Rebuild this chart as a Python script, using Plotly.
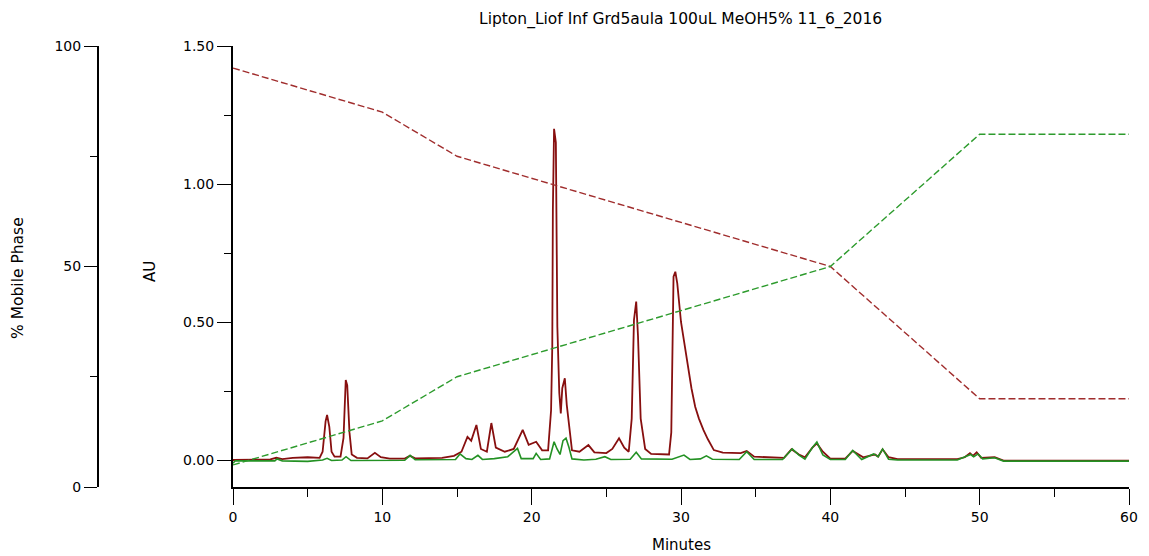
import plotly.graph_objects as go

# ---- Chromatogram: channel 1 (maroon), retention time in minutes vs AU ----
ch1_time = [0.0, 1.0, 2.5, 2.9, 3.3, 4.0, 5.0, 5.8, 6.0, 6.2, 6.3, 6.45, 6.6, 6.8, 7.2, 7.4,
            7.55, 7.65, 7.8, 7.95, 8.3, 9.0, 9.5, 9.9, 10.5, 11.5, 11.85, 12.2, 13.0, 14.0,
            14.8, 15.3, 15.7, 15.95, 16.3, 16.6, 17.0, 17.3, 17.6, 18.2, 18.8, 19.4, 19.8,
            20.3, 20.7, 21.1, 21.3, 21.38, 21.42, 21.5, 21.62, 21.72, 21.85, 21.95, 22.05,
            22.22, 22.35, 22.46, 22.7, 23.2, 23.8, 24.2, 25.0, 25.4, 25.85, 26.2, 26.5, 26.7,
            26.85, 27.0, 27.12, 27.3, 27.6, 28.0, 29.2, 29.35, 29.5, 29.62, 29.75, 30.0, 30.2,
            30.45, 30.7, 30.95, 31.2, 31.5, 31.8, 32.2, 32.8, 34.0, 34.4, 34.9, 36.0, 36.9,
            37.4, 37.9, 38.3, 38.8, 39.1, 39.5, 40.0, 41.0, 41.5, 42.2, 42.8, 43.0, 43.2,
            43.5, 43.9, 44.5, 48.5, 49.0, 49.35, 49.55, 49.8, 50.1, 51.0, 51.6, 60.0]
ch1_au = [0.000, 0.000, 0.002, 0.008, 0.003, 0.008, 0.010, 0.008, 0.030, 0.140, 0.163, 0.120,
          0.030, 0.012, 0.012, 0.080, 0.290, 0.270, 0.100, 0.020, 0.008, 0.006, 0.026, 0.010,
          0.005, 0.005, 0.015, 0.006, 0.008, 0.008, 0.015, 0.030, 0.084, 0.070, 0.127, 0.040,
          0.030, 0.134, 0.045, 0.030, 0.040, 0.109, 0.055, 0.066, 0.035, 0.035, 0.180, 0.410,
          0.906, 1.200, 1.150, 0.483, 0.243, 0.169, 0.260, 0.296, 0.200, 0.145, 0.035, 0.030,
          0.054, 0.028, 0.025, 0.040, 0.079, 0.045, 0.030, 0.150, 0.507, 0.574, 0.450, 0.150,
          0.040, 0.022, 0.020, 0.100, 0.664, 0.682, 0.640, 0.500, 0.430, 0.330, 0.260, 0.193,
          0.150, 0.109, 0.075, 0.036, 0.027, 0.025, 0.033, 0.012, 0.010, 0.008, 0.039, 0.020,
          0.010, 0.045, 0.060, 0.030, 0.005, 0.005, 0.033, 0.010, 0.018, 0.020, 0.012, 0.039,
          0.010, 0.003, 0.003, 0.010, 0.025, 0.015, 0.028, 0.008, 0.010, -0.002, -0.002]

# ---- Chromatogram: channel 2 (green) ----
ch2_time = [0.0, 0.15, 2.8, 2.95, 3.3, 5.0, 6.0, 6.3, 6.6, 7.3, 7.57, 7.9, 11.5, 11.86, 12.2,
            14.9, 15.2, 15.6, 16.0, 16.4, 16.7, 17.5, 18.4, 19.05, 19.3, 20.1, 20.3, 20.6,
            21.2, 21.5, 21.7, 21.9, 22.1, 22.3, 22.5, 22.7, 23.5, 24.3, 24.9, 25.3, 26.6,
            27.0, 27.35, 29.4, 30.2, 30.6, 31.3, 31.7, 32.1, 33.9, 34.4, 34.9, 36.8, 37.45,
            37.9, 38.3, 38.8, 39.1, 39.5, 40.0, 41.0, 41.5, 42.1, 42.9, 43.2, 43.5, 43.9,
            44.5, 48.5, 49.0, 49.4, 49.6, 49.9, 50.2, 51.0, 51.6, 60.0]
ch2_au = [-0.012, -0.003, -0.003, 0.004, -0.003, -0.005, 0.000, 0.006, -0.002, 0.000, 0.012,
          -0.002, -0.001, 0.017, 0.001, 0.002, 0.022, 0.005, 0.002, 0.017, 0.002, 0.005,
          0.012, 0.042, 0.005, 0.005, 0.024, 0.002, 0.004, 0.066, 0.040, 0.020, 0.070, 0.079,
          0.045, 0.004, 0.000, 0.003, 0.012, 0.002, 0.003, 0.028, 0.004, 0.003, 0.018, 0.002,
          0.004, 0.015, 0.003, 0.002, 0.030, 0.002, 0.002, 0.040, 0.018, 0.003, 0.045, 0.065,
          0.018, 0.002, 0.002, 0.035, 0.002, 0.022, 0.012, 0.040, 0.003, 0.000, 0.000, 0.010,
          0.020, 0.012, 0.022, 0.004, 0.008, -0.004, -0.004]

# ---- Gradient program (% mobile phase) ----
grad_time = [0, 10, 15, 40, 50, 60]
grad_a = [95, 85, 75, 50, 20, 20]
grad_b = [5, 15, 25, 50, 80, 80]

au_ticks = [0.0, 0.5, 1.0, 1.5]
au_labels = ["0.00", "0.50", "1.00", "1.50"]
pct_ticks = [0, 50, 100]
min_ticks = [0, 10, 20, 30, 40, 50, 60]

TITLE = "Lipton_Liof Inf Grd5aula 100uL MeOH5% 11_6_2016"

W, H = 1149, 556
PX_LEFT, PX_RIGHT, PX_TOP, PX_BOTTOM = 233, 1129, 46, 487
FONT = "DejaVu Sans"

fig = go.Figure()

fig.add_trace(go.Scatter(x=grad_time, y=grad_a, yaxis="y2", mode="lines",
                         line=dict(color="rgb(160,45,45)", width=1.4, dash="7px,3px"),
                         hoverinfo="skip"))
fig.add_trace(go.Scatter(x=grad_time, y=grad_b, yaxis="y2", mode="lines",
                         line=dict(color="rgb(45,155,45)", width=1.4, dash="7px,3px"),
                         hoverinfo="skip"))
fig.add_trace(go.Scatter(x=ch1_time, y=ch1_au, mode="lines",
                         line=dict(color="rgb(135,15,15)", width=1.8)))
fig.add_trace(go.Scatter(x=ch2_time, y=ch2_au, mode="lines",
                         line=dict(color="rgb(35,145,35)", width=1.6)))

tickfont = dict(family=FONT, size=14, color="black")

fig.update_layout(
    template="none",
    width=W, height=H, autosize=False,
    margin=dict(l=0, r=0, t=0, b=0, pad=0),
    paper_bgcolor="white", plot_bgcolor="white",
    showlegend=False,
    xaxis=dict(domain=[PX_LEFT / W, PX_RIGHT / W], range=[0, 60], automargin=False,
               tickmode="array", tickvals=min_ticks, ticks="outside", ticklen=16,
               tickwidth=1, tickcolor="black", showline=True, linewidth=2,
               linecolor="black", showgrid=False, zeroline=False, tickfont=tickfont,
               minor=dict(dtick=5, tick0=0, ticks="outside", ticklen=8, tickwidth=1,
                          tickcolor="black", showgrid=False)),
    yaxis=dict(domain=[1 - PX_BOTTOM / H, 1 - PX_TOP / H], range=[-0.0978, 1.5],
               anchor="x", side="left", automargin=False,
               tickmode="array", tickvals=au_ticks, ticktext=au_labels,
               ticks="outside", ticklen=14, tickwidth=1, tickcolor="black",
               showline=True, linewidth=2, linecolor="black", showgrid=False,
               zeroline=False, tickfont=tickfont,
               minor=dict(tickvals=[0.25, 0.75, 1.25], ticks="outside", ticklen=7,
                          tickwidth=1, tickcolor="black", showgrid=False)),
    yaxis2=dict(overlaying="y", anchor="free", position=98 / W, side="left",
                automargin=False,
                range=[0, 100], tickmode="array", tickvals=pct_ticks,
                ticks="outside", ticklen=13, tickwidth=1, tickcolor="black",
                showline=True, linewidth=2, linecolor="black", showgrid=False,
                zeroline=False, tickfont=tickfont,
                minor=dict(tickvals=[25, 75], ticks="outside", ticklen=7, tickwidth=1,
                           tickcolor="black", showgrid=False)),
    annotations=[
        dict(text=TITLE, x=680 / W, y=1 - 19 / H, xref="paper", yref="paper",
             xanchor="center", yanchor="middle", showarrow=False,
             font=dict(family=FONT, size=15.5, color="black")),
        dict(text="Minutes", x=681 / W, y=1 - 545 / H, xref="paper", yref="paper",
             xanchor="center", yanchor="middle", showarrow=False,
             font=dict(family=FONT, size=15, color="black")),
        dict(text="AU", x=150 / W, y=1 - 272 / H, xref="paper", yref="paper",
             xanchor="center", yanchor="middle", showarrow=False, textangle=-90,
             font=dict(family=FONT, size=15, color="black")),
        dict(text="% Mobile Phase", x=18 / W, y=1 - 278 / H, xref="paper", yref="paper",
             xanchor="center", yanchor="middle", showarrow=False, textangle=-90,
             font=dict(family=FONT, size=15.5, color="black")),
    ],
)

fig.write_html("out.html", config={"displayModeBar": False})
